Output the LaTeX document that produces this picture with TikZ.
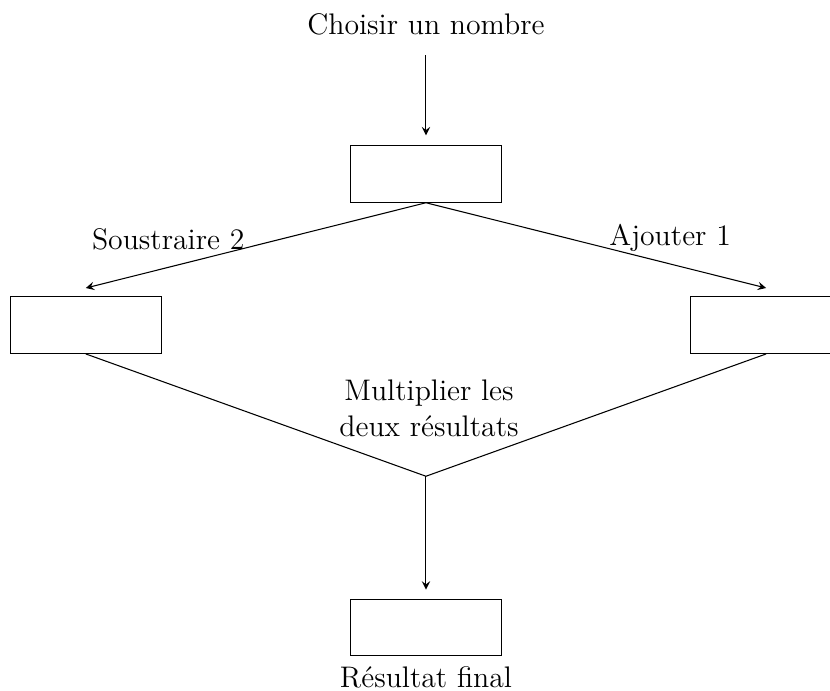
\documentclass[tikz,border=0pt]{standalone}
\usepackage{tikz}
\usepackage{amsmath, amssymb}
\usepackage{xcolor}

\tikzset{
    calcbox/.style={draw, minimum width=2cm, minimum height=0.75cm},
    etiquette/.style={font=\fontsize{11.2}{13.6}\selectfont},
    >=stealth
}

\begin{document}
\begin{tikzpicture}
    \useasboundingbox (-5.635,-6.84) rectangle (5.345,2.3);

    % Depart
    \node[etiquette] (depart) at (0,1.98) {Choisir un nombre};
    \coordinate (hautA) at (0,1.57);
    \node[calcbox] (boxA) at (0,0) {};
    \draw[->] (hautA) -- (0,0.51);

    % Deux branches
    \node[calcbox] (boxG) at (-4.5,-2) {};
    \node[calcbox] (boxD) at (4.5,-2) {};
    \coordinate (flecheG) at (-4.5,-1.51);
    \coordinate (flecheD) at (4.5,-1.51);
    \draw[->] (boxA.south) -- (flecheG);
    \draw[->] (boxA.south) -- (flecheD);
    \node[etiquette] (moins) at (-3.41,-0.87) {Soustraire 2};
    \node[etiquette] (plus) at (3.23,-0.85) {Ajouter 1};

    % Produit
    \coordinate (jonction) at (0,-4);
    \draw (boxG.south) -- (jonction) -- (boxD.south);
    \node[etiquette, align=center] (produit) at (0.04,-3.1) {Multiplier les\\deux r\'esultats};

    % Fin
    \node[calcbox] (boxF) at (0,-6) {};
    \coordinate (flecheF) at (0,-5.5);
    \draw[->] (jonction) -- (flecheF);
    \node[etiquette] (fin) at (0,-6.66) {R\'esultat final};
\end{tikzpicture}
\end{document}
